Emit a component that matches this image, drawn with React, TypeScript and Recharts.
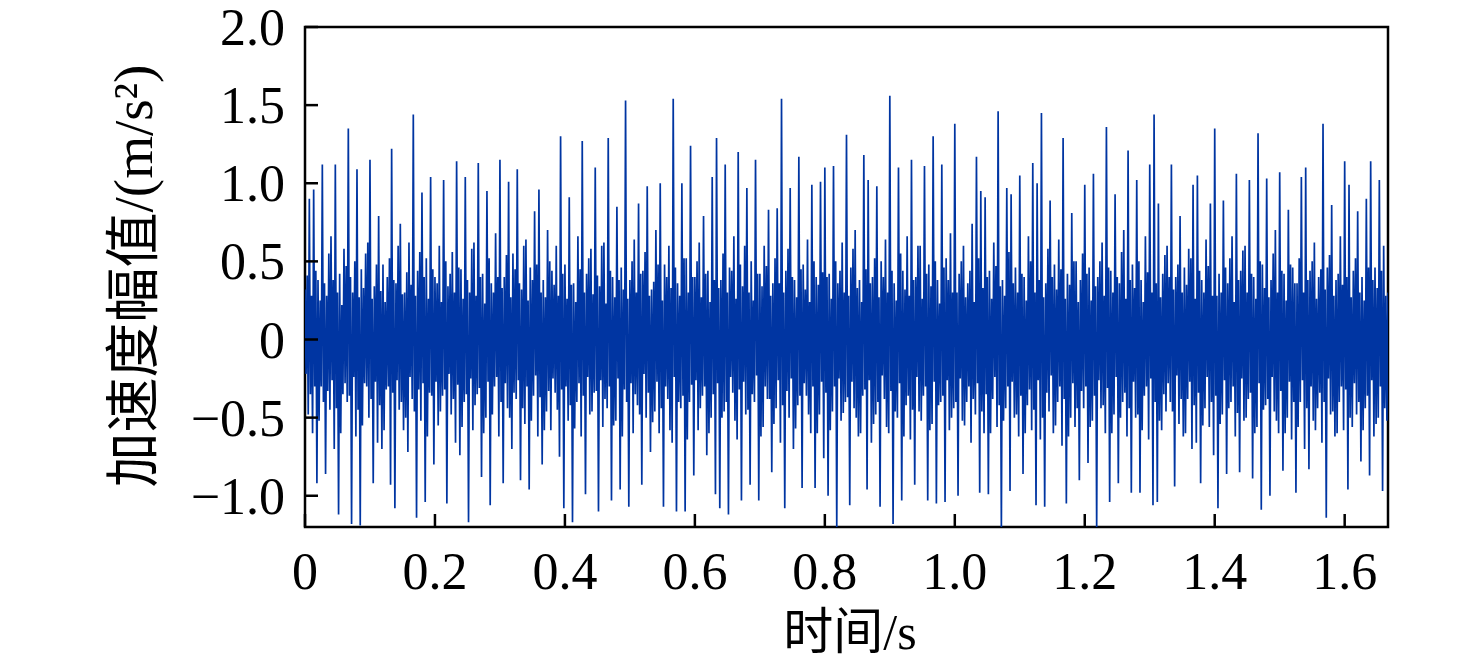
import { LineChart, Line, XAxis, YAxis, ReferenceArea } from "recharts";

// Sample period of the recorded signal, seconds
const DT = 1 / 600;

// Acceleration amplitude (m/s²) in 0.2 s blocks
const SEG_A = [
	0.32, -0.22, 0.41, -0.48, 0.9, -0.35, 0.28, -0.6, 0.96, -0.3, 0.44, -0.92, 0.38, -0.52, 0.25, -0.3, 1.12, -0.4, 0.36, -0.86,
	0.28, -0.33, 0.55, -0.45, 0.66, -0.26, 0.38, -0.7, 1.12, -0.44, 0.3, -1.12, 0.42, -0.6, 0.22, -0.35, 0.58, -0.28, 0.47, -0.4,
	1.35, -0.36, 0.4, -1.18, 0.3, -0.24, 0.5, -0.62, 1.09, -0.45, 0.27, -1.19, 0.45, -0.55, 0.33, -0.28, 0.55, -0.3, 0.62, -0.5,
	1.15, -0.38, 0.26, -0.92, 0.34, -0.27, 0.48, -0.66, 0.79, -0.42, 0.31, -0.7, 0.48, -0.58, 0.24, -0.32, 0.4, -0.3, 0.52, -0.93,
	1.22, -0.34, 0.38, -1.08, 0.36, -0.26, 0.6, -0.45, 0.74, -0.4, 0.29, -0.58, 0.3, -0.5, 0.43, -0.72, 0.62, -0.24, 0.35, -0.38,
	1.44, -0.46, 0.28, -1.14, 0.44, -0.32, 0.56, -0.52, 0.94, -0.28, 0.4, -1.04, 0.52, -0.62, 0.26, -0.34, 1.04, -0.36, 0.45, -0.8,
];
const SEG_B = [
	0.4, -0.27, 0.36, -0.55, 0.6, -0.46, 0.24, -0.36, 1.02, -0.32, 0.5, -1.05, 0.34, -0.22, 0.42, -0.48, 0.56, -0.38, 0.3, -0.66,
	1.14, -0.29, 0.46, -0.74, 0.45, -0.56, 0.26, -0.4, 1.04, -0.35, 0.38, -1.17, 0.3, -0.25, 0.58, -0.58, 0.62, -0.42, 0.28, -0.35,
	1.13, -0.31, 0.4, -0.88, 0.42, -0.6, 0.23, -0.5, 0.95, -0.27, 0.52, -1.06, 0.36, -0.48, 0.3, -0.3, 0.68, -0.24, 0.4, -0.62,
	1.15, -0.4, 0.33, -0.92, 0.4, -0.28, 0.54, -0.44, 1.01, -0.5, 0.27, -0.7, 0.55, -0.34, 0.45, -0.38, 1.09, -0.26, 0.36, -0.9,
	0.32, -0.44, 0.6, -0.54, 0.64, -0.3, 0.25, -0.96, 0.46, -0.52, 0.38, -0.36, 0.82, -0.23, 0.48, -0.62, 0.96, -0.37, 0.3, -0.8,
	0.38, -0.58, 0.27, -0.46, 0.7, -0.33, 0.5, -0.58, 0.44, -0.25, 0.35, -0.34, 0.6, -0.45, 0.28, -0.75, 1.3, -0.32, 0.42, -1.08,
];
const SEG_C = [
	0.48, -0.3, 0.26, -0.52, 0.91, -0.42, 0.35, -1.17, 0.36, -0.57, 0.24, -0.4, 0.66, -0.28, 0.45, -0.62, 1.27, -0.36, 0.3, -0.99,
	0.42, -0.24, 0.52, -0.48, 0.58, -0.46, 0.29, -0.34, 1.1, -0.33, 0.41, -1.1, 0.34, -0.26, 0.6, -0.56, 0.62, -0.38, 0.23, -0.44,
	1.29, -0.3, 0.44, -1.03, 0.4, -0.55, 0.27, -0.52, 0.85, -0.25, 0.38, -0.96, 0.46, -0.62, 0.32, -0.32, 1.53, -0.4, 0.26, -1.07,
	0.38, -0.28, 0.5, -0.6, 0.64, -0.35, 0.3, -0.42, 0.87, -0.48, 0.42, -0.93, 0.44, -0.22, 0.56, -0.5, 0.98, -0.34, 0.28, -0.72,
	0.32, -0.53, 0.37, -0.46, 0.7, -0.27, 0.48, -0.6, 1.0, -0.44, 0.25, -1.07, 0.48, -0.3, 0.4, -0.38, 0.6, -0.58, 0.33, -0.66,
	1.54, -0.24, 0.46, -1.1, 0.36, -0.4, 0.28, -0.44, 1.0, -0.36, 0.52, -1.1, 0.52, -0.64, 0.3, -0.4, 1.24, -0.29, 0.4, -0.87,
];
const SEG_D = [
	0.4, -0.26, 0.5, -0.58, 0.62, -0.44, 0.27, -0.36, 0.79, -0.3, 0.42, -0.74, 0.44, -0.6, 0.24, -0.5, 1.04, -0.35, 0.38, -0.99,
	1.29, -0.28, 0.33, -1.08, 0.38, -0.5, 0.55, -0.46, 1.12, -0.4, 0.3, -1.12, 0.46, -0.24, 0.44, -0.34, 0.66, -0.52, 0.26, -0.64,
	1.2, -0.32, 0.48, -1.03, 0.34, -0.27, 0.6, -0.48, 0.97, -0.45, 0.3, -0.93, 0.5, -0.35, 0.25, -0.4, 1.15, -0.23, 0.42, -1.03,
	0.42, -0.62, 0.34, -0.56, 0.6, -0.3, 0.47, -0.38, 0.83, -0.38, 0.28, -0.85, 0.36, -0.54, 0.52, -0.44, 0.84, -0.26, 0.36, -0.66,
	1.54, -0.42, 0.3, -1.08, 0.44, -0.33, 0.58, -0.5, 0.97, -0.25, 0.4, -0.7, 0.38, -0.57, 0.27, -0.42, 1.17, -0.36, 0.45, -0.95,
	0.48, -0.28, 0.32, -0.36, 0.64, -0.48, 0.24, -0.6, 0.99, -0.3, 0.5, -0.95, 0.4, -0.6, 0.35, -0.48, 1.01, -0.27, 0.43, -0.76,
];
const SEG_E = [
	1.1, -0.34, 0.4, -1.0, 0.42, -0.58, 0.26, -0.46, 1.11, -0.3, 0.5, -1.21, 0.36, -0.25, 0.44, -0.52, 0.62, -0.47, 0.3, -0.4,
	1.31, -0.37, 0.28, -1.06, 0.46, -0.27, 0.58, -0.44, 0.7, -0.5, 0.33, -0.62, 0.38, -0.6, 0.24, -0.36, 1.18, -0.32, 0.45, -0.96,
	1.02, -0.26, 0.36, -0.66, 0.4, -0.54, 0.52, -0.48, 0.98, -0.4, 0.27, -1.07, 0.5, -0.23, 0.4, -0.38, 0.64, -0.56, 0.3, -0.6,
	1.56, -0.33, 0.44, -1.18, 0.36, -0.46, 0.25, -0.5, 1.1, -0.28, 0.55, -1.03, 0.44, -0.62, 0.32, -0.42, 0.66, -0.36, 0.28, -0.64,
	1.15, -0.45, 0.38, -0.93, 0.4, -0.24, 0.6, -0.46, 0.6, -0.52, 0.26, -0.36, 1.11, -0.3, 0.42, -1.03, 0.48, -0.58, 0.34, -0.54,
	1.3, -0.27, 0.5, -1.05, 0.38, -0.42, 0.23, -0.4, 1.12, -0.36, 0.46, -1.04, 0.52, -0.26, 0.38, -0.58, 0.68, -0.5, 0.3, -0.44,
];
const SEG_F = [
	1.38, -0.4, 0.3, -1.0, 0.42, -0.25, 0.5, -0.52, 0.6, -0.55, 0.27, -0.4, 0.36, -0.3, 0.44, -0.66, 0.74, -0.38, 0.24, -0.48,
	1.17, -0.28, 0.52, -0.98, 0.95, -0.46, 0.33, -0.6, 0.91, -0.35, 0.4, -0.99, 0.44, -0.6, 0.26, -0.38, 0.62, -0.24, 0.47, -0.56,
	1.46, -0.42, 0.34, -1.21, 0.38, -0.52, 0.28, -0.44, 0.97, -0.3, 0.56, -0.97, 0.93, -0.27, 0.36, -0.5, 0.46, -0.48, 0.3, -0.62,
	1.05, -0.36, 0.42, -0.86, 0.4, -0.6, 0.25, -0.42, 0.66, -0.32, 0.5, -0.58, 1.13, -0.45, 0.3, -1.06, 1.0, -0.26, 0.38, -0.64,
	1.45, -0.5, 0.27, -1.07, 0.36, -0.34, 0.58, -0.46, 0.89, -0.23, 0.4, -0.6, 0.48, -0.55, 0.32, -0.4, 0.64, -0.3, 0.45, -0.68,
	1.29, -0.38, 0.26, -1.05, 0.42, -0.62, 0.35, -0.5, 0.81, -0.28, 0.5, -0.56, 0.5, -0.44, 0.24, -0.9, 0.38, -0.33, 0.55, -0.44,
];
const SEG_G = [
	0.99, -0.3, 0.42, -0.79, 0.46, -0.56, 0.25, -0.52, 1.06, -0.36, 0.34, -1.21, 0.4, -0.26, 0.5, -0.44, 0.62, -0.42, 0.28, -0.6,
	1.36, -0.31, 0.46, -1.04, 0.44, -0.6, 0.3, -0.48, 0.93, -0.24, 0.4, -0.92, 0.36, -0.5, 0.56, -0.4, 0.7, -0.34, 0.26, -0.62,
	1.21, -0.44, 0.38, -0.98, 0.48, -0.27, 0.33, -0.5, 1.02, -0.48, 0.5, -0.98, 0.38, -0.58, 0.24, -0.36, 0.66, -0.3, 0.43, -0.64,
	1.12, -0.25, 0.3, -1.06, 1.44, -0.4, 0.36, -1.04, 0.87, -0.52, 0.27, -0.58, 0.42, -0.35, 0.54, -0.46, 0.6, -0.28, 0.4, -0.4,
	1.12, -0.46, 0.32, -0.94, 0.4, -0.23, 0.48, -0.54, 0.79, -0.38, 0.3, -0.62, 0.46, -0.6, 0.35, -0.38, 0.58, -0.27, 0.52, -0.7,
	0.99, -0.42, 0.26, -0.66, 1.05, -0.34, 0.44, -0.92, 0.38, -0.55, 0.3, -0.44, 0.64, -0.24, 0.47, -0.56, 0.87, -0.4, 0.28, -0.74,
];
const SEG_H = [
	1.35, -0.36, 0.28, -1.08, 0.42, -0.54, 0.3, -0.48, 0.89, -0.26, 0.46, -0.86, 0.36, -0.44, 0.52, -0.4, 0.66, -0.3, 0.24, -0.62,
	1.06, -0.47, 0.38, -0.85, 0.44, -0.25, 0.57, -0.52, 0.6, -0.5, 0.3, -0.38, 1.02, -0.34, 0.42, -0.89, 0.4, -0.6, 0.26, -0.56,
	1.32, -0.28, 0.5, -1.09, 0.48, -0.45, 0.33, -0.42, 1.03, -0.38, 0.27, -1.0, 0.38, -0.24, 0.55, -0.46, 0.7, -0.52, 0.3, -0.6,
	1.07, -0.33, 0.44, -0.84, 0.42, -0.6, 0.25, -0.5, 0.83, -0.27, 0.48, -0.64, 0.46, -0.4, 0.36, -0.98, 0.36, -0.56, 0.52, -0.4,
	1.04, -0.26, 0.3, -0.7, 1.1, -0.44, 0.38, -0.83, 0.44, -0.3, 0.5, -0.52, 0.62, -0.58, 0.26, -0.44, 0.4, -0.34, 0.45, -0.66,
	1.38, -0.4, 0.32, -1.14, 0.46, -0.25, 0.54, -0.48, 0.86, -0.46, 0.28, -0.62, 0.38, -0.6, 0.42, -0.4, 0.66, -0.3, 0.35, -0.58,
];
const SEG_I = [
	1.14, -0.32, 0.4, -0.96, 0.99, -0.5, 0.27, -0.56, 0.44, -0.28, 0.52, -0.48, 0.82, -0.4, 0.3, -0.78, 0.4, -0.58, 0.25, -0.44,
	0.9, -0.36, 0.46, -0.87, 1.14, -0.26, 0.38, -0.62, 0.46, -0.54, 0.33, -0.5, 1.02, -0.3, 0.44, -0.97, 0.6, -0.44, 0.28, -0.52,
	0.3,
];

const X_TICKS = [0, 0.2, 0.4, 0.6, 0.8, 1.0, 1.2, 1.4, 1.6];
const X_TICK_LABELS = ["0", "0.2", "0.4", "0.6", "0.8", "1.0", "1.2", "1.4", "1.6"];
const Y_TICKS = [-1, -0.5, 0, 0.5, 1, 1.5, 2];
const Y_TICK_LABELS = ["\u22121.0", "\u22120.5", "0", "0.5", "1.0", "1.5", "2.0"];

const SIGNAL = [...SEG_A, ...SEG_B, ...SEG_C, ...SEG_D, ...SEG_E, ...SEG_F, ...SEG_G, ...SEG_H, ...SEG_I];
const T_END = (SIGNAL.length - 1) * DT;
const data = SIGNAL.map((a, i) => ({ t: i * DT, a }));

const FONT = "'Liberation Serif', 'Times New Roman', 'Noto Sans CJK SC', serif";
const TICK_LEN = 13;

function XTick({ x, y, payload }: any) {
	const label = X_TICK_LABELS[X_TICKS.indexOf(payload.value)];
	return (
		<g>
			<line x1={x} x2={x} y1={y} y2={y - TICK_LEN} stroke="#000" strokeWidth={2.5} />
			<text x={x} y={y + 62} textAnchor="middle" fontSize={52} fontFamily={FONT} fill="#000">
				{label}
			</text>
		</g>
	);
}

function YTick({ x, y, payload }: any) {
	const label = Y_TICK_LABELS[Y_TICKS.indexOf(payload.value)];
	return (
		<g>
			<line x1={x} x2={x + TICK_LEN} y1={y} y2={y} stroke="#000" strokeWidth={2.5} />
			<text x={x - 20} y={y + 18} textAnchor="end" fontSize={52} fontFamily={FONT} fill="#000">
				{label}
			</text>
		</g>
	);
}

export default function App() {
	return (
		<div style={{ position: "relative", width: 1476, height: 670, background: "#fff" }}>
			<style>{"body{margin:0}"}</style>
			<LineChart width={1476} height={670} data={data} margin={{ top: 27, right: 88, bottom: 0, left: 0 }}>
				<XAxis
					dataKey="t"
					type="number"
					domain={[0, T_END]}
					ticks={X_TICKS}
					allowDataOverflow
					height={143}
					axisLine={false}
					tickLine={false}
					tickSize={0}
					tickMargin={0}
					tick={<XTick />}
					interval={0}
				/>
				<YAxis
					type="number"
					domain={[-1.2, 2]}
					ticks={Y_TICKS}
					allowDataOverflow
					width={305}
					axisLine={false}
					tickLine={false}
					tickSize={0}
					tickMargin={0}
					tick={<YTick />}
					interval={0}
				/>
				<Line
					type="linear"
					dataKey="a"
					stroke="#0035a2"
					strokeWidth={1.7}
					dot={false}
					activeDot={false}
					isAnimationActive={false}
				/>
				<ReferenceArea x1={0} x2={T_END} y1={-1.2} y2={2} fill="none" stroke="#000" strokeWidth={2.5} ifOverflow="visible" />
			</LineChart>
			<svg width={1476} height={670} style={{ position: "absolute", left: 0, top: 0, pointerEvents: "none" }}>
				<text
					x={133}
					y={276}
					transform="rotate(-90 133 276)"
					textAnchor="middle"
					dominantBaseline="central"
					fontSize={55}
					fontFamily={FONT}
					fill="#000"
				>
					加速度幅值/(m/s²)
				</text>
				<text x={850} y={649} textAnchor="middle" fontSize={50} fontFamily={FONT} fill="#000">
					时间/s
				</text>
			</svg>
		</div>
	);
}
